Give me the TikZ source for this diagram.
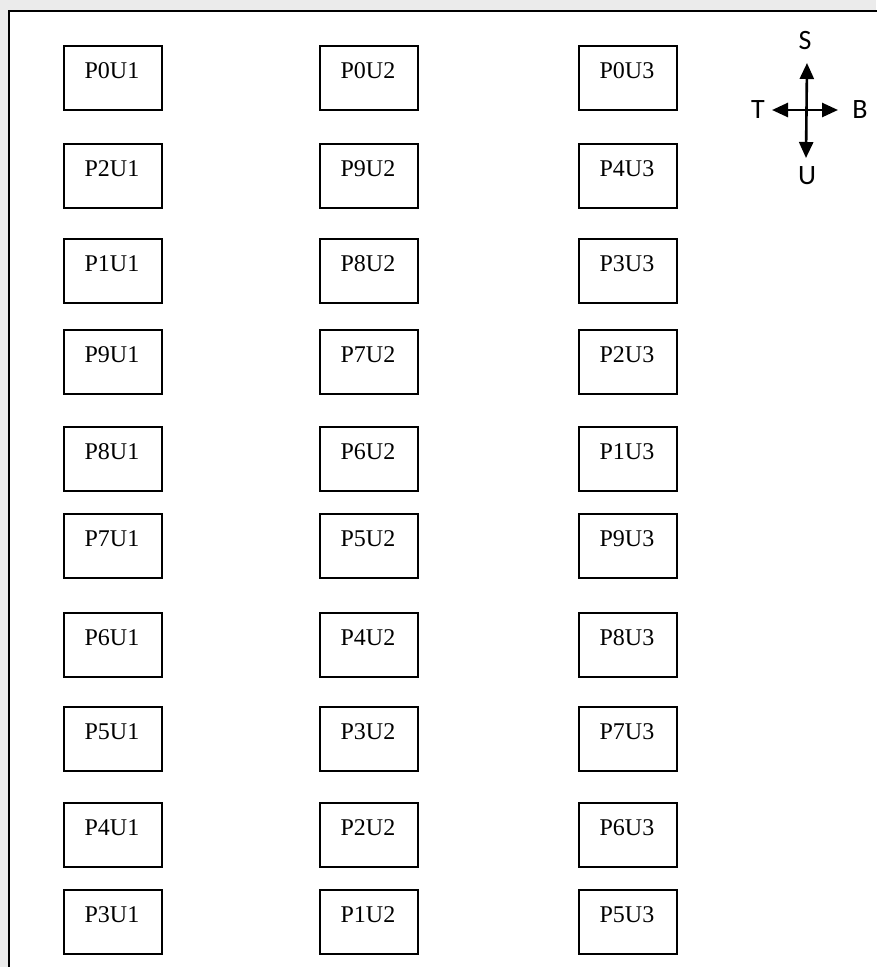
\documentclass[tikz,border=0pt]{standalone}
\usepackage{fontspec}
\setmainfont{Liberation Serif}
\newfontfamily\compassfont{Carlito}
\usetikzlibrary{arrows.meta}
\begin{document}
\begin{tikzpicture}[x=1pt,y=-1pt,
  cell/.style={draw=black,line width=1.9pt,minimum width=98pt,minimum height=64pt,inner sep=0pt,anchor=north west},
  celltext/.style={font=\fontsize{24}{28}\selectfont,anchor=base,inner sep=0pt},
  dirlabel/.style={font=\compassfont\fontsize{28}{32}\selectfont,inner sep=0pt},
  compass/.style={line width=2.6pt,{Triangle[length=16pt,width=14pt]}-{Triangle[length=16pt,width=14pt]}}]
\useasboundingbox (0,0) rectangle (876,967);
\fill[gray!16] (0,0) rectangle (876,967);
\filldraw[fill=white,draw=black,line width=1.9pt] (9,11) rectangle (890,990);
% grid of cells
\def\rowtops{45,143,238,329,426,513,612,706,802,889}
\foreach \c/\x/\labels in {1/63/{P0U1,P2U1,P1U1,P9U1,P8U1,P7U1,P6U1,P5U1,P4U1,P3U1},
                           2/319/{P0U2,P9U2,P8U2,P7U2,P6U2,P5U2,P4U2,P3U2,P2U2,P1U2},
                           3/578/{P0U3,P4U3,P3U3,P2U3,P1U3,P9U3,P8U3,P7U3,P6U3,P5U3}}{
  \foreach \lab [count=\r] in \labels {
    \pgfmathsetmacro{\ytop}{{\rowtops}[\r-1]}
    \node[cell] (box\c-\r) at (\x,\ytop) {};
    \node[celltext] (txt\c-\r) at ([xshift=-1pt,yshift=-33pt]box\c-\r.north) {\lab};
  }
}
% compass
\coordinate (cN) at (807,63);
\coordinate (cS) at (806,158);
\coordinate (cW) at (772,110);
\coordinate (cE) at (838,110);
\draw[compass] (cS) -- (cN);
\draw[compass] (cW) -- (cE);
\node[dirlabel] (lS) at (805,41) {S};
\node[dirlabel] (lT) at (758,110) {T};
\node[dirlabel] (lB) at (860,110) {B};
\node[dirlabel] (lU) at (807,176) {U};
\end{tikzpicture}
\end{document}
